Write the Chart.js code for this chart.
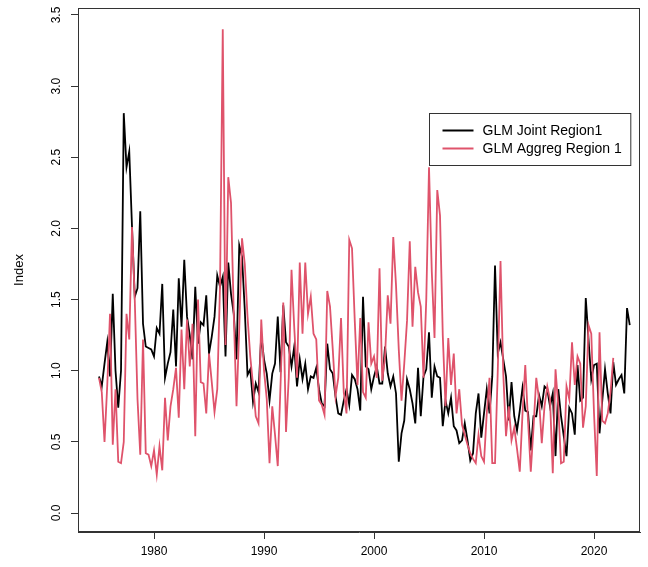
<!DOCTYPE html>
<html>
<head>
<meta charset="utf-8">
<title>Index</title>
<script src="https://cdn.jsdelivr.net/npm/chart.js@4.4.1/dist/chart.umd.min.js"></script>
<style>
  html, body { margin: 0; padding: 0; background: #ffffff; }
  #chart { display: block; }
</style>
</head>
<body>
<canvas id="chart" width="648" height="567"></canvas>
<script>
// quarterly series, first value at 1975 Q1
const startYear = 1975;
const perYear = 4;

const yearTicks = [1980, 1990, 2000, 2010, 2020];
const indexTicks = [0, 0.5, 1, 1.5, 2, 2.5, 3, 3.5];

const seriesNames = ['GLM Joint Region1', 'GLM Aggreg Region 1'];
const seriesColors = ['#000000', '#DF536B'];

const jointIndex = [
  0.96, 0.89, 1.05, 1.20, 0.96, 1.54, 1.00, 0.74, 1.00, 2.81,
  2.43, 2.54, 2.01, 1.52, 1.58, 2.12, 1.33, 1.17, 1.16, 1.15,
  1.10, 1.30, 1.26, 1.61, 0.95, 1.05, 1.13, 1.43, 1.03, 1.65,
  1.31, 1.78, 1.38, 1.25, 1.08, 1.59, 1.19, 1.34, 1.32, 1.53,
  1.12, 1.24, 1.38, 1.67, 1.59, 1.66, 1.10, 1.76, 1.54, 1.40,
  1.08, 1.88, 1.80, 1.43, 0.97, 1.01, 0.78, 0.91, 0.85, 1.25,
  1.08, 0.98, 0.79, 0.98, 1.05, 1.38, 0.99, 1.46, 1.20, 1.17,
  1.03, 1.17, 0.89, 1.08, 0.94, 1.05, 0.87, 0.96, 0.95, 1.02,
  0.87, 0.77, 0.75, 1.19, 1.01, 0.98, 0.82, 0.70, 0.69, 0.79,
  0.87, 0.76, 0.97, 0.94, 0.87, 0.72, 1.52, 1.03, 1.01, 0.87,
  0.96, 1.03, 0.91, 0.91, 1.17, 0.98, 0.89, 0.96, 0.84, 0.36,
  0.56, 0.65, 0.94, 0.87, 0.77, 0.63, 1.02, 0.68, 0.96, 1.01,
  1.27, 0.81, 1.03, 0.96, 0.95, 0.61, 0.79, 0.70, 0.81, 0.61,
  0.58, 0.49, 0.51, 0.63, 0.51, 0.37, 0.42, 0.70, 0.84, 0.53,
  0.70, 0.87, 0.70, 0.96, 1.74, 1.12, 1.20, 1.08, 0.96, 0.65,
  0.92, 0.68, 0.58, 0.72, 0.88, 0.72, 0.71, 0.44, 0.68, 0.68,
  0.83, 0.75, 0.89, 0.87, 0.75, 0.84, 0.40, 0.87, 0.68, 0.54,
  0.40, 0.74, 0.70, 0.55, 1.04, 0.79, 0.81, 1.51, 1.22, 0.94,
  1.04, 1.05, 0.56, 0.79, 1.01, 0.84, 0.70, 1.06, 0.90, 0.94,
  0.97, 0.84, 1.44, 1.32
];

const aggregIndex = [
  0.95, 0.85, 0.50, 0.90, 1.40, 0.48, 0.87, 0.36, 0.35, 0.50,
  1.40, 1.22, 2.01, 1.50, 0.80, 0.41, 1.22, 0.42, 0.41, 0.33,
  0.44, 0.27, 0.47, 0.30, 0.81, 0.51, 0.75, 0.87, 1.02, 0.67,
  1.29, 0.87, 1.36, 1.03, 1.33, 0.54, 1.50, 0.92, 0.91, 0.70,
  1.12, 0.92, 0.71, 0.87, 1.59, 3.40, 1.18, 2.36, 2.18, 1.40,
  0.75, 1.30, 1.93, 1.75, 1.38, 1.10, 0.90, 0.68, 0.63, 1.36,
  1.00, 0.80, 0.35, 0.75, 0.55, 0.33, 0.90, 1.48, 0.57, 0.95,
  1.71, 1.30, 0.95, 1.76, 1.26, 1.76, 1.40, 1.52, 1.26, 1.22,
  0.79, 0.76, 0.69, 1.56, 1.45, 1.15, 0.82, 0.95, 1.37, 0.85,
  0.70, 1.92, 1.86, 1.35, 0.90, 1.37, 0.85, 0.81, 1.34, 1.05,
  1.10, 0.95, 1.72, 0.93, 1.10, 1.53, 1.33, 1.94, 1.60, 1.15,
  0.79, 1.05, 1.35, 1.91, 1.31, 1.73, 1.55, 1.45, 0.95, 1.50,
  2.43, 1.70, 1.23, 2.27, 2.09, 1.25, 0.75, 1.23, 0.90, 1.12,
  0.70, 0.87, 0.62, 0.55, 0.48, 0.42, 0.38, 0.35, 0.55, 0.40,
  0.36, 0.70, 0.95, 0.35, 0.35, 1.00, 1.77, 0.98, 0.54, 0.75,
  0.51, 0.60, 0.45, 0.29, 0.70, 1.04, 0.65, 0.29, 0.60, 0.95,
  0.80, 0.49, 0.75, 0.89, 0.80, 0.28, 1.01, 0.75, 0.35, 0.36,
  0.89, 0.80, 1.20, 0.90, 1.10, 1.05, 0.60, 0.75, 1.32, 1.26,
  0.70, 0.26, 1.27, 0.65, 0.63, 0.70, 0.85, 1.09
];

// axis limits (R-style padding around the data)
const xMin = 1973.09, xMax = 2024.18;
const yMin = -0.1335, yMax = 3.549;
// legend anchor, in data units (top-left corner)
const legendAt = { x: 2005, y: 2.81 };

const FONT = '"Liberation Sans", Arial, Helvetica, sans-serif';

function toPoints(values) {
  return values.map((v, i) => ({ x: startYear + i / perYear, y: v }));
}

// full frame around the plotting region
const boxPlugin = {
  id: 'box',
  afterDraw(chart) {
    const { ctx, chartArea: a } = chart;
    ctx.save();
    ctx.strokeStyle = '#333';
    ctx.lineWidth = 1;
    ctx.strokeRect(a.left + 0.5, a.top + 0.5, a.right - a.left - 1, a.bottom - a.top - 1);
    ctx.restore();
  }
};

// base-graphics style legend box
const legendBox = {
  id: 'legendBox',
  afterDatasetsDraw(chart) {
    const { ctx, scales } = chart;
    const left = Math.round(scales.x.getPixelForValue(legendAt.x)) + 0.5;
    const top = Math.round(scales.y.getPixelForValue(legendAt.y)) + 0.5;
    ctx.save();
    ctx.font = '14px ' + FONT;
    const textW = Math.max(...chart.data.datasets.map(d => ctx.measureText(d.label).width));
    const w = 53 + textW + 9, h = 52;
    ctx.fillStyle = '#fff';
    ctx.fillRect(left, top, w, h);
    ctx.strokeStyle = '#333';
    ctx.lineWidth = 1;
    ctx.strokeRect(left, top, w, h);
    chart.data.datasets.forEach((d, i) => {
      const yy = top + 17 + i * 18;
      ctx.strokeStyle = d.borderColor;
      ctx.lineWidth = 2;
      ctx.beginPath();
      ctx.moveTo(left + 13, yy);
      ctx.lineTo(left + 44, yy);
      ctx.stroke();
      ctx.fillStyle = '#000';
      ctx.textBaseline = 'middle';
      ctx.fillText(d.label, left + 53, yy + 1);
    });
    ctx.restore();
  }
};

new Chart(document.getElementById('chart'), {
  type: 'line',
  data: {
    datasets: [
      {
        label: seriesNames[0],
        data: toPoints(jointIndex),
        borderColor: seriesColors[0],
        borderWidth: 1.8,
        pointRadius: 0,
        tension: 0,
        order: 1
      },
      {
        label: seriesNames[1],
        data: toPoints(aggregIndex),
        borderColor: seriesColors[1],
        borderWidth: 1.8,
        pointRadius: 0,
        tension: 0,
        order: 0
      }
    ]
  },
  options: {
    responsive: false,
    animation: false,
    devicePixelRatio: 1,
    layout: { padding: { left: 0, top: 8, right: 8, bottom: 0 } },
    plugins: {
      legend: { display: false },
      tooltip: { enabled: false }
    },
    scales: {
      x: {
        type: 'linear',
        min: xMin,
        max: xMax,
        afterBuildTicks: s => { s.ticks = yearTicks.map(v => ({ value: v })); },
        afterFit: s => { s.height = 35; s.paddingLeft = 0; s.paddingRight = 0; },
        ticks: {
          color: '#000',
          font: { family: FONT, size: 12 },
          padding: 5,
          maxRotation: 0,
          autoSkip: false,
          callback: v => String(v)
        },
        grid: { display: true, drawOnChartArea: false, drawTicks: true, tickLength: 7, color: '#333' },
        border: { display: true, color: '#333' }
      },
      y: {
        type: 'linear',
        min: yMin,
        max: yMax,
        afterBuildTicks: s => { s.ticks = indexTicks.map(v => ({ value: v })); },
        // rotated labels would otherwise reserve extra room above and below
        afterFit: s => { s.width = 78; s.paddingTop = 0; s.paddingBottom = 0; },
        ticks: {
          color: '#000',
          font: { family: FONT, size: 12 },
          padding: 6,
          minRotation: 90,
          maxRotation: 90,
          crossAlign: 'center',
          autoSkip: false,
          callback: v => v.toFixed(1)
        },
        grid: { display: true, drawOnChartArea: false, drawTicks: true, tickLength: 7, color: '#333' },
        border: { display: true, color: '#333' },
        title: {
          display: true,
          text: 'Index',
          color: '#000',
          font: { family: FONT, size: 13 },
          padding: { top: 12, bottom: 0 }
        }
      }
    }
  },
  plugins: [boxPlugin, legendBox]
});
</script>
</body>
</html>
